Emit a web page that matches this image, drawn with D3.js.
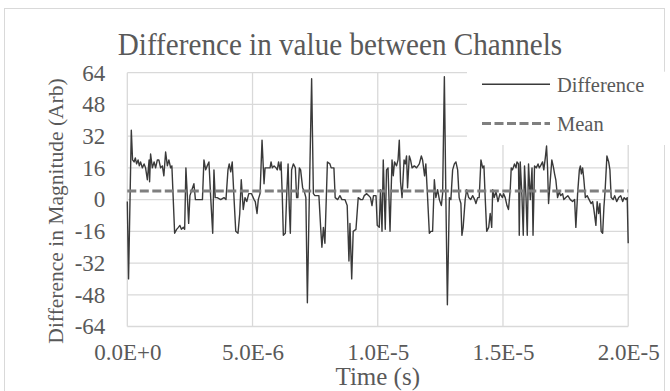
<!DOCTYPE html>
<html>
<head>
<meta charset="utf-8">
<script src="https://cdn.jsdelivr.net/npm/d3@7"></script>
<style>
  body { margin: 0; background: #fff; }
  text { font-family: "Liberation Serif", "Times New Roman", serif; fill: #595959; }
</style>
</head>
<body>
<svg id="chart" width="670" height="391"></svg>
<script>
// time in microseconds, difference in arbitrary units
const timeUs = [
  0, 0.05, 0.16, 0.21, 0.27, 0.32, 0.37, 0.43, 0.48, 0.53, 0.60, 0.67, 0.73, 0.80, 0.87, 0.89, 0.93, 1.00, 1.07, 1.13,
  1.20, 1.26, 1.33, 1.40, 1.46, 1.53, 1.60, 1.66, 1.73, 1.78, 1.89, 1.97, 2.04, 2.10, 2.16, 2.24, 2.29, 2.34, 2.40, 2.45,
  2.50, 2.58, 2.66, 2.72, 2.82, 2.93, 3.00, 3.06, 3.13, 3.19, 3.26, 3.33, 3.41, 3.46, 3.51, 3.59, 3.73, 3.86, 3.94, 4.02,
  4.07, 4.13, 4.19, 4.26, 4.33, 4.42, 4.49, 4.55, 4.63, 4.70, 4.77, 4.85,
  4.96, 5.06, 5.11, 5.18, 5.23, 5.30, 5.38, 5.46, 5.50, 5.56, 5.63, 5.70, 5.74, 5.79, 5.86, 5.94, 5.99, 6.04, 6.10, 6.14,
  6.19, 6.23, 6.31, 6.36, 6.42, 6.47, 6.51, 6.56, 6.63, 6.71, 6.76, 6.81, 6.87, 6.92, 7.00, 7.07, 7.13, 7.19, 7.27, 7.36,
  7.43, 7.49, 7.56, 7.65, 7.72, 7.77, 7.83, 7.89, 7.99, 8.09, 8.14, 8.25, 8.30, 8.40, 8.49, 8.57, 8.69, 8.78, 8.85, 8.89,
  8.96, 9.02, 9.13, 9.22, 9.32, 9.40, 9.46, 9.56, 9.64, 9.71, 9.77, 9.83, 9.93, 9.98,
  10.06, 10.11, 10.17, 10.22, 10.30, 10.35, 10.41, 10.49, 10.57, 10.62, 10.67, 10.75, 10.81, 10.86, 10.91, 10.97, 11.05, 11.10, 11.15, 11.19,
  11.26, 11.31, 11.37, 11.46, 11.55, 11.66, 11.74, 11.79, 11.87, 11.92, 11.99, 12.06, 12.12, 12.19, 12.26, 12.32, 12.39, 12.46, 12.54, 12.59,
  12.66, 12.72, 12.78, 12.86, 12.92, 12.99, 13.06, 13.12, 13.19, 13.25, 13.32, 13.36, 13.41, 13.49, 13.55, 13.63, 13.71, 13.79, 13.87, 13.92,
  13.99, 14.05, 14.12, 14.19, 14.24, 14.29, 14.35, 14.43, 14.49, 14.55, 14.59, 14.65, 14.72, 14.80, 14.88, 14.98,
  15.02, 15.09, 15.16, 15.22, 15.29, 15.33, 15.38, 15.46, 15.52, 15.56, 15.62, 15.65, 15.69, 15.76, 15.81, 15.86, 15.92, 15.97, 16.02, 16.09,
  16.16, 16.20, 16.26, 16.33, 16.40, 16.45, 16.50, 16.58, 16.63, 16.69, 16.74, 16.78, 16.82, 16.89, 16.95, 17.02, 17.06, 17.11, 17.18, 17.25,
  17.30, 17.38, 17.43, 17.51, 17.59, 17.69, 17.78, 17.86, 17.91, 17.98, 18.05, 18.09, 18.13, 18.18, 18.23, 18.29, 18.36, 18.44, 18.52, 18.58,
  18.63, 18.71, 18.76, 18.82, 18.87, 18.92, 18.98, 19.03, 19.08, 19.15, 19.22, 19.27, 19.32, 19.40, 19.46, 19.54, 19.62, 19.70, 19.78, 19.84,
  19.91, 19.96, 20.00
];
const diffValues = [
  -1, -40, 35, 20, 19, 21, 18, 20, 17, 19, 16, 18, 16, 10, 20, 9, 23, 16, 19, 16,
  20, 20, 16, 17, 12, 24, 17, 20, 16, 17, -17, -15, -14, -13, -15, -14, -15, 16, 1, -12,
  2, 5, 8, 0, 0, 0, 0, 20, 15, 17, 19, 1, -17, 15, 1, 1, 0, 1, 0, 15,
  18, 14, 19, 1, -16, -17, -7, 10, -5, 1, -1, 3,
  3, 0, -1, -7, 0, 3, 30, 8, 16, 16, 16, 16, 19, 16, 17, 16, 15, 19, 15, 19,
  1, -18, -17, 1, 18, -5, -17, 15, 18, 16, 1, 1, 16, 15, 6, 4, 1, -52, 3, 61,
  3, 2, 2, 2, -14, -24, -14, -22, 19, 18, 16, 16, 1, 0, 2, 0, 0, -3, -31, -12,
  -40, -16, -15, 1, 0, 0, 2, 3, 2, 1, -3, 2, 2, -13,
  -14, 5, -16, 20, -15, 15, 16, -16, 20, 12, 19, 17, 20, 30, 9, 1, 20, 18, 22, 6,
  22, 20, 16, 17, 16, 18, 22, 20, 12, 18, 1, -17, -16, -16, 10, 1, 5, 0, -3, 3,
  62, 1, -53, 1, 0, 15, 18, 19, 15, 1, -2, -18, -14, 0, 5, 1, 0, 2, 0, -2,
  1, 1, 20, 16, 17, 1, -16, -14, -7, -14, 5, 1, 4, -1, 3, 1,
  3, 1, -3, -5, 5, 16, 15, 18, 16, 19, 18, -18, 19, 1, -18, 17, 1, -18, 18, 0,
  16, -18, 17, 16, 18, 16, 17, 19, 15, 21, 27, 16, -2, 10, 20, 16, 13, 10, 1, 4,
  2, 3, 0, 1, 2, 0, -1, 0, -14, 3, 15, 17, 13, 16, 10, 1, 2, 0, -2, -1,
  -5, -13, -1, -7, -2, -16, -17, -4, 5, 22, 19, 15, 1, 0, 2, -1, 1, 2, -1, 1,
  0, 1, -22
];
const meanValue = 4.4;
const xTicks = [0, 5, 10, 15, 20];          // microseconds
const yTicks = [-64, -48, -32, -16, 0, 16, 32, 48, 64];
const seriesNames = ['Difference', 'Mean'];

const data = timeUs.map((t, i) => ({ t: t, v: diffValues[i] }));

const plot = { left: 127.3, right: 628.2, top: 72.7, bottom: 326.5 };

const svg = d3.select('#chart');

svg.append('rect')
  .attr('x', 4.5).attr('y', 8.5)
  .attr('width', 660).attr('height', 400)
  .attr('fill', '#fff').attr('stroke', '#d9d9d9');

const x = d3.scaleLinear().domain([0, 20]).range([plot.left, plot.right]);
const y = d3.scaleLinear().domain([-64, 64]).range([plot.bottom, plot.top]);

// gridlines
const grid = svg.append('g').attr('stroke', '#d9d9d9').attr('stroke-width', 1.3);
grid.selectAll('.h').data(yTicks).join('line')
  .attr('x1', plot.left).attr('x2', plot.right)
  .attr('y1', d => y(d)).attr('y2', d => y(d));
grid.selectAll('.v').data(xTicks).join('line')
  .attr('x1', d => x(d)).attr('x2', d => x(d))
  .attr('y1', plot.top).attr('y2', plot.bottom);

// axes (labels only)
const yAxis = svg.append('g')
  .attr('transform', `translate(${plot.left},0)`)
  .call(d3.axisLeft(y).tickValues(yTicks).tickSize(0).tickPadding(22).tickFormat(d => String(d)));
yAxis.select('.domain').remove();
yAxis.selectAll('text').style('font-size', '23px');

const xAxis = svg.append('g')
  .attr('transform', `translate(0,${plot.bottom})`)
  .call(d3.axisBottom(x).tickValues(xTicks).tickSize(0)
    .tickFormat(d => (d * 1e-6).toExponential(1).toUpperCase()));
xAxis.select('.domain').remove();
xAxis.selectAll('text')
  .style('font-size', '23px')
  .attr('y', 33).attr('dy', 0);

// series
const line = d3.line().x(d => x(d.t)).y(d => y(d.v));
svg.append('path')
  .datum(data)
  .attr('d', line)
  .attr('fill', 'none')
  .attr('stroke', '#3a3a3a')
  .attr('stroke-width', 1.4)
  .attr('stroke-linejoin', 'round');

svg.append('line')
  .attr('x1', x(0)).attr('x2', x(20))
  .attr('y1', y(meanValue)).attr('y2', y(meanValue))
  .attr('stroke', '#7f7f7f')
  .attr('stroke-width', 3)
  .attr('stroke-dasharray', '9,3.5');

// legend
svg.append('rect')
  .attr('x', 467).attr('y', plot.top - 1)
  .attr('width', 198).attr('height', 146 - plot.top)
  .attr('fill', '#fff');

const legend = svg.append('g');
const legendRows = [
  { name: seriesNames[0], y: 84.3, stroke: '#3a3a3a', width: 1.4, dash: null },
  { name: seriesNames[1], y: 123.5, stroke: '#7f7f7f', width: 3, dash: '9,3.5' }
];
legendRows.forEach(r => {
  legend.append('line')
    .attr('x1', 482).attr('x2', 550)
    .attr('y1', r.y).attr('y2', r.y)
    .attr('stroke', r.stroke)
    .attr('stroke-width', r.width)
    .attr('stroke-dasharray', r.dash);
  legend.append('text')
    .attr('x', 557).attr('y', r.y + 7.5)
    .style('font-size', '20.5px')
    .text(r.name);
});

// titles
svg.append('text')
  .attr('transform', 'translate(340,55) scale(0.94,1)')
  .attr('text-anchor', 'middle')
  .style('font-size', '31px')
  .text('Difference in value between Channels');

svg.append('text')
  .attr('x', (plot.left + plot.right) / 2).attr('y', 385)
  .attr('text-anchor', 'middle')
  .style('font-size', '25px')
  .text('Time (s)');

svg.append('text')
  .attr('transform', 'translate(55,211) rotate(-90)')
  .attr('text-anchor', 'middle')
  .attr('dy', '0.35em')
  .style('font-size', '21.5px')
  .text('Difference in Magnitude (Arb)');
</script>
</body>
</html>
